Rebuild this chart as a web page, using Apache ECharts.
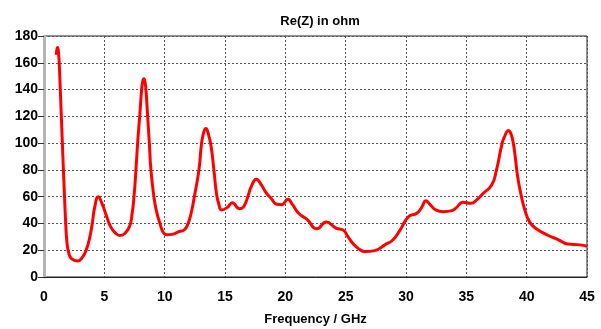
<!DOCTYPE html>
<html>
<head>
<meta charset="utf-8">
<script src="https://cdn.jsdelivr.net/npm/echarts@6/dist/echarts.min.js"></script>
<style>html,body{margin:0;padding:0;background:#fff;}#c{width:601px;height:329px;}</style>
</head>
<body>
<div id="c"></div>
<script>
const chartTitle = "Re(Z) in ohm";
const xAxisName = "Frequency / GHz";
const freqGHz = [1.02,1.07,1.13,1.2,1.27,1.35,1.5,1.6,1.7,1.8,1.9,2.05,2.3,2.8,3.2,3.53,3.8,4.0,4.2,4.5,4.8,5.2,5.5,5.9,6.3,6.7,7.1,7.3,7.46,7.62,7.76,7.93,8.09,8.18,8.28,8.38,8.45,8.59,8.73,8.86,9.11,9.3,9.61,9.9,10.2,10.7,11.2,11.6,11.9,12.2,12.46,12.84,13.06,13.25,13.42,13.6,13.84,14.08,14.3,14.5,14.72,15.2,15.6,16.2,16.5,16.8,17.2,17.6,18.0,18.4,18.8,19.3,19.7,20.2,20.6,21.1,21.8,22.6,23.4,24.2,24.8,25.2,25.6,26.1,26.6,27.4,28.25,28.9,29.5,30.2,30.9,31.3,31.65,32.0,32.5,33.1,33.8,34.2,34.7,35.4,35.9,36.4,37.1,37.5,37.97,38.2,38.35,38.5,38.65,38.85,39.05,39.25,39.57,39.85,40.25,40.8,41.8,42.6,43.4,44.4,45.0];
const reZ = [166,170,171.5,168,158,140,105,82,60,40,26,18,13.5,12,15,21,30,40,52,60,55,45,38,33,31,32.5,38,47,60,80,100,120,140,146,148,145,140,120,100,80,60,50,40,33,31.5,32,34,35,39,48,60,80,100,108.5,111,107.5,98,80,62,54,50,52,55.5,51,52,57.5,68,73,69,63,59,54.3,54,58,54,47.6,43,36,41,36.5,35,30,25,21,19,19.7,24,27.6,35,45,47.6,52,57,54,50,48.8,49.6,52,55.8,55,58,62.5,68.7,80,100,105.5,108.5,109.5,108,102,90,75,60,50,41,36,31,28,24.6,24,23];

const chart = echarts.init(document.getElementById('c'));
const font = '"Liberation Sans", Arial, sans-serif';
chart.setOption({
  backgroundColor: '#fff',
  animation: false,
  title: {
    text: chartTitle, left: 315, top: 10, textAlign: 'center',
    textStyle: {fontFamily: font, fontWeight: 'bold', fontSize: 13, color: '#000'}
  },
  grid: {left: 44, right: 14, top: 36, bottom: 52, show: true, borderColor: '#222', borderWidth: 1, outerBoundsMode: 'none', containLabel: false},
  xAxis: {
    type: 'value', min: 0, max: 45, interval: 5,
    name: xAxisName, nameLocation: 'middle', nameGap: 36,
    nameTextStyle: {fontFamily: font, fontWeight: 'bold', fontSize: 13, color: '#000'},
    axisLine: {lineStyle: {color: '#222', width: 1}},
    axisTick: {show: false},
    axisLabel: {fontFamily: font, fontWeight: 'bold', fontSize: 14, color: '#000', margin: 13},
    splitLine: {lineStyle: {color: '#555', type: [2, 2], width: 1}}
  },
  yAxis: {
    type: 'value', min: 0, max: 180, interval: 20,
    axisLine: {show: true, lineStyle: {color: '#b4b4b4', width: 3}},
    axisTick: {show: true, length: 6, lineStyle: {color: '#333', width: 1}},
    axisLabel: {fontFamily: font, fontWeight: 'bold', fontSize: 14, color: '#000', margin: 6},
    splitLine: {lineStyle: {color: '#555', type: [2, 2], width: 1}}
  },
  series: [{
    type: 'line', showSymbol: false, smooth: 0.5,
    data: freqGHz.map((f, i) => [f, reZ[i]]),
    lineStyle: {color: '#ff0000', width: 3},
    itemStyle: {color: '#ff0000'}
  }]
});
</script>
</body>
</html>
